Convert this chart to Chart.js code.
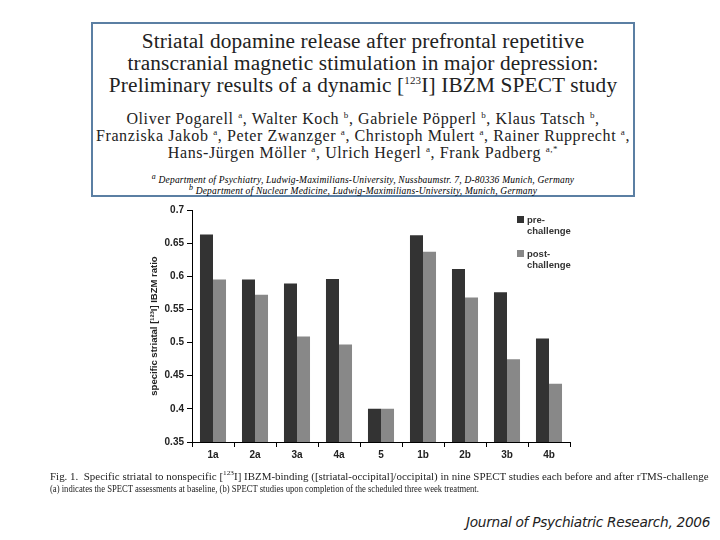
<!DOCTYPE html>
<html>
<head>
<meta charset="utf-8">
<script src="https://cdn.jsdelivr.net/npm/chart.js@4.4.0/dist/chart.umd.min.js"></script>
<style>
  body { margin: 0; width: 720px; height: 540px; background: #fff; position: relative; overflow: hidden; }
  .abs { position: absolute; white-space: nowrap; }
  #paper { left: 91px; top: 22px; width: 540px; height: 171px; border: 2px solid #5b7fa3; background: #fff; }
  .serif { font-family: "Liberation Serif", "Times New Roman", serif; color: #222; }
  .ttl { font-size: 21.3px; text-align: center; width: 540px; left: 0; letter-spacing: 0.15px; }
  .auth { font-size: 16px; text-align: center; width: 540px; left: 0; letter-spacing: 0.6px; }
  .aff { font-size: 9.5px; font-style: italic; text-align: center; width: 540px; left: 0; color: #000; letter-spacing: 0.2px; }
  #chartBox { left: 140px; top: 200px; width: 440px; height: 270px; }
  .leg { font-family: "Liberation Sans", Arial, sans-serif; font-size: 9.5px; font-weight: bold; color: #333; line-height: 11px; }
  .sw { position: absolute; width: 7px; height: 7px; }
  .cap { font-size: 10.5px; left: 50px; transform-origin: left top; }
  #journal { left: 466px; top: 514px; font-family: "DejaVu Sans", sans-serif; font-style: italic; font-size: 13.7px; color: #222; letter-spacing: -0.3px; }
</style>
</head>
<body>

<div id="paper" class="abs serif">
  <div class="abs ttl" style="top:5px">Striatal dopamine release after prefrontal repetitive</div>
  <div class="abs ttl" style="top:27px">transcranial magnetic stimulation in major depression:</div>
  <div class="abs ttl" style="top:49px">Preliminary results of a dynamic [<sup style="font-size:11px">123</sup>I] IBZM SPECT study</div>
  <div class="abs auth" style="top:86px">Oliver Pogarell <sup style="font-size:9px">a</sup>, Walter Koch <sup style="font-size:9px">b</sup>, Gabriele Pöpperl <sup style="font-size:9px">b</sup>, Klaus Tatsch <sup style="font-size:9px">b</sup>,</div>
  <div class="abs auth" style="top:103px">Franziska Jakob <sup style="font-size:9px">a</sup>, Peter Zwanzger <sup style="font-size:9px">a</sup>, Christoph Mulert <sup style="font-size:9px">a</sup>, Rainer Rupprecht <sup style="font-size:9px">a</sup>,</div>
  <div class="abs auth" style="top:120px">Hans-Jürgen Möller <sup style="font-size:9px">a</sup>, Ulrich Hegerl <sup style="font-size:9px">a</sup>, Frank Padberg <sup style="font-size:9px">a,*</sup></div>
  <div class="abs aff" style="top:148px"><sup>a</sup> Department of Psychiatry, Ludwig-Maximilians-University, Nussbaumstr. 7, D-80336 Munich, Germany</div>
  <div class="abs aff" style="top:159px"><sup>b</sup> Department of Nuclear Medicine, Ludwig-Maximilians-University, Munich, Germany</div>
</div>

<div id="chartBox" class="abs"><canvas id="barChart" width="440" height="270"></canvas></div>

<div class="abs leg" style="left:527px; top:214px">
  <span class="sw" style="left:-10px; top:2px; background:#333"></span>pre-<br>challenge
</div>
<div class="abs leg" style="left:527px; top:248px">
  <span class="sw" style="left:-10px; top:2px; background:#888"></span>post-<br>challenge
</div>

<div class="abs serif cap" style="top:469px; transform:scaleX(1.043)">Fig. 1.&nbsp; Specific striatal to nonspecific [<sup style="font-size:7px">123</sup>I] IBZM-binding ([striatal-occipital]/occipital) in nine SPECT studies each before and after rTMS-challenge</div>
<div class="abs serif cap" style="top:483px; transform:scaleX(0.82)">(a) indicates the SPECT assessments at baseline, (b) SPECT studies upon completion of the scheduled three week treatment.</div>

<div id="journal" class="abs">Journal of Psychiatric Research, 2006</div>

<script>
// data
const studies = ["1a", "2a", "3a", "4a", "5", "1b", "2b", "3b", "4b"];
const preChallenge = [0.663, 0.595, 0.589, 0.596, 0.400, 0.662, 0.611, 0.576, 0.506];
const postChallenge = [0.595, 0.572, 0.509, 0.497, 0.400, 0.637, 0.568, 0.475, 0.438];
const yTicks = [0.35, 0.4, 0.45, 0.5, 0.55, 0.6, 0.65, 0.7];

const tickFont = { family: "Liberation Sans, Arial, sans-serif", size: 10, weight: "bold" };

let ctx = document.getElementById("barChart").getContext("2d");
let barChart = new Chart(ctx, {
    type: "bar",
    data: {
        labels: studies,
        datasets: [
            { label: "pre-challenge", data: preChallenge, backgroundColor: "#333333" },
            { label: "post-challenge", data: postChallenge, backgroundColor: "#888888" }
        ]
    },
    options: {
        responsive: false,
        animation: false,
        layout: { padding: { top: 10, right: 10, left: 0, bottom: 0 } },
        plugins: { legend: { display: false }, tooltip: { enabled: false } },
        datasets: { bar: { categoryPercentage: 0.62, barPercentage: 1.0 } },
        scales: {
            x: {
                grid: { display: true, drawOnChartArea: false, drawTicks: true, tickLength: 5, color: "#000" },
                border: { color: "#000", width: 1 },
                ticks: { color: "#222", font: tickFont, padding: 2 },
                afterFit: s => { s.height = 28; }
            },
            y: {
                min: 0.35,
                max: 0.7,
                afterBuildTicks: s => { s.ticks = yTicks.map(v => ({ value: v })); },
                grid: { display: true, drawOnChartArea: false, drawTicks: true, tickLength: 5, color: "#000" },
                border: { color: "#000", width: 1 },
                ticks: {
                    color: "#222",
                    font: tickFont,
                    padding: 3,
                    callback: v => String(Number(v.toFixed(2)))
                },
                title: {
                    display: true,
                    text: "specific striatal [\u00B9\u00B2\u00B3I] IBZM ratio",
                    color: "#222",
                    font: { family: "Liberation Sans, Arial, sans-serif", size: 9.5, weight: "bold" },
                    padding: { top: 9, bottom: 0 }
                },
                afterFit: s => { s.width = 52; }
            }
        }
    }
});
</script>
</body>
</html>
